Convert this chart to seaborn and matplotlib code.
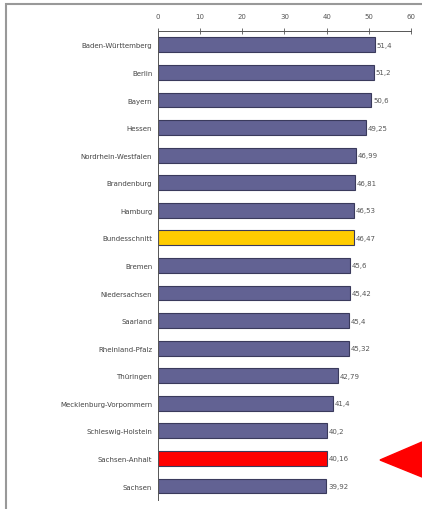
import numpy as np
import pandas as pd
import seaborn as sns
import matplotlib.pyplot as plt
from matplotlib.patches import Polygon, Rectangle

# Values (percent), sorted as shown
laender = ["Baden-Württemberg", "Berlin", "Bayern", "Hessen", "Nordrhein-Westfalen",
           "Brandenburg", "Hamburg", "Bundesschnitt", "Bremen", "Niedersachsen",
           "Saarland", "Rheinland-Pfalz", "Thüringen", "Mecklenburg-Vorpommern",
           "Schleswig-Holstein", "Sachsen-Anhalt", "Sachsen"]
werte = [51.4, 51.2, 50.6, 49.25, 46.99, 46.81, 46.53, 46.47, 45.6, 45.42,
         45.4, 45.32, 42.79, 41.4, 40.2, 40.16, 39.92]
wert_labels = ["51,4", "51,2", "50,6", "49,25", "46,99", "46,81", "46,53", "46,47",
               "45,6", "45,42", "45,4", "45,32", "42,79", "41,4", "40,2", "40,16", "39,92"]
gruppe = ["Land"] * 7 + ["Schnitt"] + ["Land"] * 7 + ["Markiert"] + ["Land"]

df = pd.DataFrame({"land": laender, "wert": werte, "gruppe": gruppe})
farben = {"Land": "#626293", "Schnitt": "#ffcc00", "Markiert": "#ff0000"}

sns.set_style("white")
plt.rcParams["font.family"] = ["DejaVu Sans"]

fig = plt.figure(figsize=(4.22, 5.10), dpi=100)
ax = fig.add_axes([0.374, 0.018, 0.600, 0.919])

sns.barplot(data=df, x="wert", y="land", hue="gruppe", palette=farben,
            dodge=False, width=0.54, saturation=1, legend=False, ax=ax,
            edgecolor="#3a3a5c", linewidth=0.8)

ax.set_xlim(0, 60)
ax.set_xticks(np.arange(0, 61, 10))
ax.xaxis.tick_top()
ax.tick_params(axis="x", labelsize=5, colors="#555555", direction="inout",
               length=4, width=0.6, pad=7)
ax.tick_params(axis="y", labelsize=5, colors="#444444", length=0, pad=4)
ax.set_yticks(np.arange(len(laender)) - 0.5, minor=True)
ax.tick_params(axis="y", which="minor", direction="inout", length=4, width=0.6,
               color="#555555")
ax.set_xlabel("")
ax.set_ylabel("")

for s in ["right", "bottom"]:
    ax.spines[s].set_visible(False)
for s in ["top", "left"]:
    ax.spines[s].set_color("#555555")
    ax.spines[s].set_linewidth(0.7)

for i, (w, t) in enumerate(zip(werte, wert_labels)):
    ax.text(w + 0.4, i, t, va="center", ha="left", fontsize=5, color="#555555")

# outer chart frame (Excel style)
fig.add_artist(Rectangle((6 / 422, -0.01), 1.2, 1 - 5 / 510 + 0.01,
                         transform=fig.transFigure, fill=False,
                         edgecolor="#999999", linewidth=1.5))

# red arrow at the right pointing to Sachsen-Anhalt
fig.add_artist(Polygon([(380 / 422, 1 - 461 / 510), (1.0, 1 - 443 / 510),
                        (1.0, 1 - 478 / 510)], closed=True,
                       transform=fig.transFigure, color="#ff0000"))

fig.savefig("out.png", dpi=100)
